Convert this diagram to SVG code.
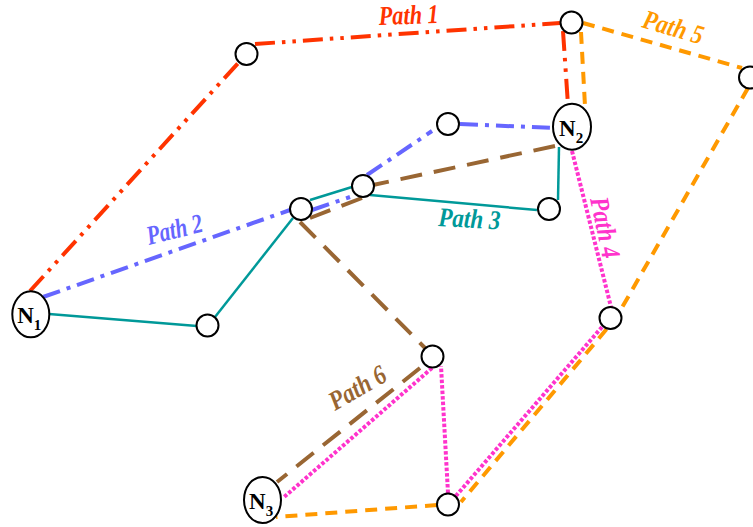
<svg xmlns="http://www.w3.org/2000/svg" width="753" height="527" viewBox="0 0 753 527">
  <style>
    .seg { fill: none; stroke-width: 4; }
    .p1 { stroke: #FF3300; stroke-dasharray: 20 7 3.5 7 3.5 7; }
    .p2 { stroke: #6666FF; stroke-dasharray: 18 7 4 7; }
    .p3 { stroke: #009999; stroke-width: 2.5; }
    .p4 { stroke: #FF33CC; stroke-dasharray: 3.5 2; stroke-width: 4; }
    .p5 { stroke: #FF9900; stroke-dasharray: 12 8; }
    .p6 { stroke: #996633; stroke-dasharray: 22 12; }
    .node { fill: #fff; stroke: #000; stroke-width: 2; }
    .lbl { font-family: "Liberation Serif", "Times New Roman", serif; font-weight: bold; font-style: italic; font-size: 27px; }
    .nm { font-family: "Liberation Serif", "Times New Roman", serif; font-weight: bold; font-size: 23px; fill: #000; }
    .sub { font-size: 15px; }
  </style>

  <g id="connectors">
    <!-- Path 1 -->
    <g id="path1">
      <path class="seg p1" d="M30,291 L241,60"/>
      <path class="seg p1" d="M255,44 L560,23"/>
      <path class="seg p1" d="M563,31 L568,105"/>
    </g>
    <!-- Path 5 -->
    <g id="path5">
      <path class="seg p5" d="M583,23 L742,68"/>
      <path class="seg p5" d="M581,32 L585,106"/>
      <path class="seg p5" d="M748,88 L616,318 L461,502"/>
      <path class="seg p5" d="M437,505 L276,517"/>
    </g>
    <!-- Path 4 -->
    <g id="path4">
      <path class="seg p4" d="M572,151 L611,307"/>
      <path class="seg p4" d="M602,327 L455,497"/>
      <path class="seg p4" d="M448,493 L441,366"/>
      <path class="seg p4" d="M432,368 L283,498"/>
    </g>
    <!-- Path 6 -->
    <g id="path6">
      <path class="seg p6" d="M555,146 L373,185"/>
      <path class="seg p6" d="M362,198 L310,218"/>
      <path class="seg p6" d="M300,222 L425,348"/>
      <path class="seg p6" d="M420,368 L277,482"/>
    </g>
    <!-- Path 2 -->
    <g id="path2">
      <path class="seg p2" d="M43,297 L290,210"/>
      <path class="seg p2" d="M312,210 L350,197"/>
      <path class="seg p2" d="M367,175 L432,131"/>
      <path class="seg p2" d="M460,124 L553,128"/>
    </g>
    <!-- Path 3 -->
    <g id="path3">
      <path class="seg p3" d="M49,314 L197,326"/>
      <path class="seg p3" d="M215,317 L293,218"/>
      <path class="seg p3" d="M310,200 L352,187"/>
      <path class="seg p3" d="M370,195 L537,210"/>
      <path class="seg p3" d="M558,200 L559,147"/>
    </g>
  </g>

  <g id="labels">
    <text class="lbl" fill="#FF3300" font-size="25" transform="translate(379,25) rotate(-2)" textLength="60" lengthAdjust="spacingAndGlyphs">Path 1</text>
    <text class="lbl" fill="#FF9900" transform="translate(641,27) rotate(16.5)" textLength="62" lengthAdjust="spacingAndGlyphs">Path 5</text>
    <text class="lbl" fill="#6666FF" transform="translate(149,245) rotate(-14)" textLength="57" lengthAdjust="spacingAndGlyphs">Path 2</text>
    <text class="lbl" fill="#009999" transform="translate(438,226) rotate(3)" textLength="62" lengthAdjust="spacingAndGlyphs">Path 3</text>
    <text class="lbl" fill="#FF33CC" transform="translate(590,199) rotate(78)" textLength="62" lengthAdjust="spacingAndGlyphs">Path 4</text>
    <text class="lbl" fill="#996633" transform="translate(335,411) rotate(-30)" textLength="62" lengthAdjust="spacingAndGlyphs">Path 6</text>
  </g>

  <g id="nodes">
    <g id="a"><circle class="node" cx="246.5" cy="54" r="11"/></g>
    <g id="b"><circle class="node" cx="571.5" cy="22.5" r="11"/></g>
    <g id="c"><circle class="node" cx="750" cy="77.5" r="11"/></g>
    <g id="d"><circle class="node" cx="448" cy="124" r="11"/></g>
    <g id="e"><circle class="node" cx="363" cy="186" r="11"/></g>
    <g id="f"><circle class="node" cx="301" cy="209" r="11"/></g>
    <g id="g"><circle class="node" cx="549" cy="209" r="11"/></g>
    <g id="h"><circle class="node" cx="207.5" cy="325.5" r="11"/></g>
    <g id="i"><circle class="node" cx="432.5" cy="356.5" r="11"/></g>
    <g id="j"><circle class="node" cx="610.5" cy="318" r="11"/></g>
    <g id="k"><circle class="node" cx="448" cy="504.5" r="11"/></g>
    <g id="n1">
      <ellipse class="node" cx="30.8" cy="314.3" rx="18.5" ry="23"/>
      <text class="nm" x="17.2" y="323">N<tspan class="sub" dy="6.5">1</tspan></text>
    </g>
    <g id="n2">
      <ellipse class="node" cx="572" cy="126.7" rx="19" ry="23"/>
      <text class="nm" x="559" y="136">N<tspan class="sub" dy="6.5">2</tspan></text>
    </g>
    <g id="n3">
      <ellipse class="node" cx="262.5" cy="500" rx="18.5" ry="23"/>
      <text class="nm" x="249" y="509">N<tspan class="sub" dy="6.5">3</tspan></text>
    </g>
  </g>
</svg>
